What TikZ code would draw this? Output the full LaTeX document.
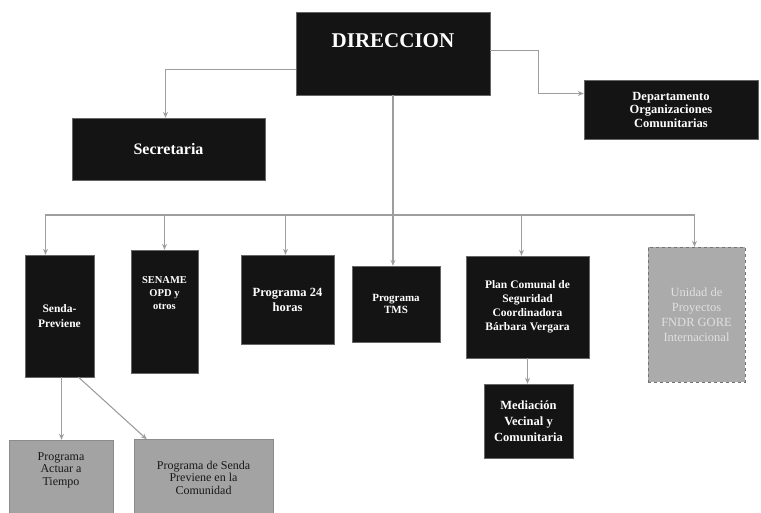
\documentclass[tikz,border=0pt]{standalone}
\usepackage{fontspec}
\setmainfont{Liberation Serif}
\usetikzlibrary{arrows.meta}
\definecolor{boxdark}{rgb}{0.08,0.08,0.08}
\definecolor{boxgray}{rgb}{0.64,0.64,0.64}
\definecolor{boxfaint}{rgb}{0.67,0.67,0.67}
\definecolor{linkgray}{rgb}{0.62,0.62,0.62}

\begin{document}
\begin{tikzpicture}[x=1pt,y=-1pt,
    darkbox/.style 2 args={draw=black!60,fill=boxdark,text=white,align=center,inner sep=2pt,
        font=\bfseries\fontsize{#1}{#2}\selectfont},
    graybox/.style={draw=black!45,fill=boxgray,text=black!90,align=center,inner sep=2pt,
        font=\fontsize{12}{12.5}\selectfont},
    faintbox/.style={draw=black!55,dashed,fill=boxfaint,text=black!12,align=center,inner sep=2pt,
        font=\fontsize{12.5}{15}\selectfont},
    link/.style={draw=linkgray,line width=1.1pt},
    arrowlink/.style={link,-{Stealth[length=6pt,width=5pt]}}]

    \useasboundingbox (0,0) rectangle (761,512);

    % draw top boxes
    \node[darkbox={21}{23},minimum width=194pt,minimum height=83pt,text depth=26pt] (dir) at (393,53.5) {DIRECCION};
    \node[darkbox={16}{18},minimum width=193pt,minimum height=62pt] (sec) at (168.5,149) {Secretaria};
    \node[darkbox={12.5}{13.5},minimum width=174pt,minimum height=59pt] (dept) at (671,109.5) {Departamento\\Organizaciones\\Comunitarias};

    % draw program boxes
    \node[darkbox={11.5}{15},minimum width=69pt,minimum height=122pt] (senda) at (59.5,316) {Senda-\\Previene};
    \node[darkbox={10.5}{13},minimum width=67pt,minimum height=123pt,text depth=36pt] (sename) at (164.5,311.5) {SENAME\\OPD y\\otros};
    \node[darkbox={12.5}{15},minimum width=93pt,minimum height=89pt] (prog24) at (287.5,299.5) {Programa 24\\horas};
    \node[darkbox={11}{12},minimum width=88pt,minimum height=76pt] (tms) at (396,304) {Programa\\TMS};
    \node[darkbox={11.5}{14},minimum width=123pt,minimum height=102pt] (plan) at (527.5,307) {Plan Comunal de\\Seguridad\\Coordinadora\\Bárbara Vergara};
    \node[faintbox,minimum width=97pt,minimum height=135pt] (unidad) at (696.5,314.5) {Unidad de\\Proyectos\\FNDR GORE\\Internacional};
    \node[darkbox={12.5}{16},minimum width=89pt,minimum height=74pt] (med) at (528.5,421) {Mediación\\Vecinal y\\Comunitaria};

    % draw bottom boxes
    \node[graybox,minimum width=104pt,minimum height=76pt,text depth=18pt] (actuar) at (61,478) {Programa\\Actuar a\\Tiempo};
    \node[graybox,minimum width=139pt,minimum height=76pt] (comunidad) at (203.5,477.5) {Programa de Senda\\Previene en la\\Comunidad};

    % draw connectors from the top
    \draw[arrowlink] ([yshift=-16pt]dir.west) -| ([xshift=-3pt]sec.north);
    \draw[arrowlink] ([yshift=3pt]dir.east) -- ++(48,0) |- ([yshift=16pt]dept.west);
    \draw[arrowlink] (dir.south) -- (dir.south |- tms.north);

    % draw bus line and drops
    \coordinate (busL) at (45,215);
    \coordinate (busR) at (694.5,215);
    \draw[link] (busL) -- (busR);
    \foreach \n/\dx in {senda/-14,sename/0,prog24/-2,plan/-6,unidad/-2}
        \draw[arrowlink] ([xshift=\dx pt]\n.north |- busL) -- ([xshift=\dx pt]\n.north);

    % draw lower connectors
    \draw[arrowlink] ([xshift=2pt]senda.south) -- ([xshift=2pt]senda.south |- actuar.north);
    \draw[arrowlink] ([xshift=19pt]senda.south) -- ([xshift=13pt]comunidad.north west);
    \draw[arrowlink] (plan.south) -- (plan.south |- med.north);
\end{tikzpicture}
\end{document}
